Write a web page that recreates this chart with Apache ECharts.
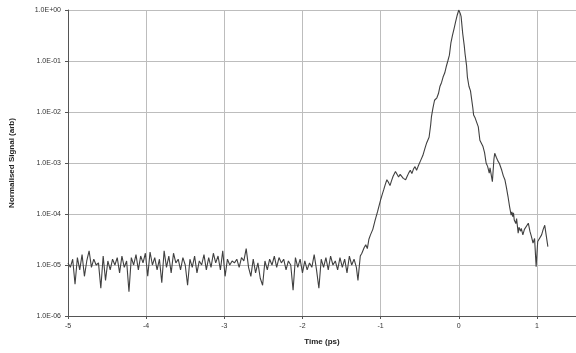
<!DOCTYPE html>
<html>
<head>
<meta charset="utf-8">
<script src="https://cdn.jsdelivr.net/npm/echarts@6/dist/echarts.min.js"></script>
<style>html,body{margin:0;padding:0;background:#fff;}#chart{width:576px;height:353px;}</style>
</head>
<body>
<div id="chart"></div>
<script>
// Time axis (ps)
var timePs = [
-5.00,-4.97,-4.94,-4.91,-4.88,-4.85,-4.82,-4.79,-4.76,-4.73,-4.70,-4.67,-4.64,-4.61,-4.58,-4.55,-4.52,-4.49,-4.46,-4.43,
-4.40,-4.37,-4.34,-4.31,-4.28,-4.25,-4.22,-4.19,-4.16,-4.13,-4.10,-4.07,-4.04,-4.01,-3.98,-3.95,-3.92,-3.89,-3.86,-3.83,
-3.80,-3.77,-3.74,-3.71,-3.68,-3.65,-3.62,-3.59,-3.56,-3.53,-3.50,-3.47,-3.44,-3.41,-3.38,-3.35,-3.32,-3.29,-3.26,-3.23,
-3.20,-3.17,-3.14,-3.11,-3.08,-3.05,-3.02,-2.99,-2.96,-2.93,-2.90,-2.87,-2.84,-2.81,-2.78,-2.75,-2.72,-2.69,-2.66,-2.63,
-2.60,-2.57,-2.54,-2.51,-2.48,-2.45,-2.42,-2.39,-2.36,-2.33,-2.30,-2.27,-2.24,-2.21,-2.18,-2.15,-2.12,-2.09,-2.06,-2.03,
-2.00,-1.97,-1.94,-1.91,-1.88,-1.85,-1.82,-1.79,-1.76,-1.73,-1.70,-1.67,-1.64,-1.61,-1.58,-1.55,-1.52,-1.49,-1.46,-1.43,
-1.40,-1.37,-1.34,-1.31,
-1.29,-1.26,-1.24,-1.21,-1.19,-1.17,-1.15,-1.13,-1.10,-1.07,-1.04,-1.00,-0.98,-0.96,-0.94,-0.92,-0.90,-0.88,-0.86,-0.84,
-0.81,-0.79,-0.77,-0.75,-0.73,-0.71,-0.68,-0.66,-0.64,-0.62,-0.60,-0.58,-0.56,-0.54,-0.52,-0.49,-0.46,-0.43,-0.41,-0.38,
-0.36,-0.35,-0.33,-0.31,-0.28,-0.26,-0.24,-0.22,-0.20,-0.18,-0.16,-0.14,-0.12,-0.10,-0.08,-0.06,-0.04,-0.02,0.00,
0.02,0.03,0.05,0.07,0.08,0.10,0.11,0.13,0.15,0.16,0.18,0.19,0.21,0.23,0.25,0.27,0.29,0.31,0.33,0.35,
0.37,0.39,0.40,0.42,0.43,0.45,0.46,0.48,0.50,0.52,0.55,0.57,0.59,0.61,0.63,0.65,0.67,0.68,0.69,0.70,
0.71,0.73,0.74,0.76,0.77,0.79,0.80,0.82,0.84,0.86,0.89,0.91,0.93,0.95,0.97,0.99,1.01,1.03,1.06,1.08,
1.10,1.12,1.14
];
// Normalised signal (arb)
var signal = [
1.1e-5,0.9e-5,1.3e-5,0.42e-5,1.4e-5,0.8e-5,1.6e-5,0.6e-5,1.2e-5,1.9e-5,0.9e-5,1.3e-5,1.0e-5,1.1e-5,0.35e-5,1.5e-5,0.5e-5,1.2e-5,0.8e-5,1.3e-5,
1.0e-5,1.4e-5,0.7e-5,1.5e-5,0.9e-5,1.2e-5,0.3e-5,1.4e-5,1.0e-5,1.6e-5,0.8e-5,1.5e-5,1.1e-5,1.7e-5,0.6e-5,1.8e-5,1.0e-5,1.4e-5,0.8e-5,1.3e-5,
0.45e-5,1.9e-5,0.9e-5,1.5e-5,0.7e-5,1.7e-5,1.1e-5,1.3e-5,0.8e-5,1.4e-5,1.0e-5,0.4e-5,1.3e-5,0.9e-5,1.5e-5,0.7e-5,1.2e-5,1.0e-5,1.6e-5,0.8e-5,
1.4e-5,0.9e-5,1.7e-5,1.1e-5,1.5e-5,0.8e-5,1.9e-5,0.6e-5,1.3e-5,1.0e-5,1.2e-5,1.1e-5,1.3e-5,0.9e-5,1.4e-5,1.2e-5,2.1e-5,0.9e-5,0.6e-5,1.3e-5,
0.7e-5,1.1e-5,0.55e-5,0.4e-5,1.2e-5,0.8e-5,1.3e-5,1.0e-5,1.5e-5,0.9e-5,1.4e-5,1.1e-5,1.3e-5,0.8e-5,1.2e-5,1.0e-5,0.32e-5,1.4e-5,0.9e-5,1.3e-5,
0.7e-5,1.2e-5,0.8e-5,1.1e-5,0.9e-5,1.6e-5,0.8e-5,0.35e-5,1.3e-5,0.9e-5,1.4e-5,0.8e-5,1.5e-5,1.0e-5,1.2e-5,0.8e-5,1.4e-5,0.9e-5,1.3e-5,0.7e-5,
1.5e-5,1.0e-5,1.3e-5,0.9e-5,
0.5e-5,1.5e-5,1.7e-5,2.2e-5,2.5e-5,2.1e-5,3.2e-5,3.9e-5,5.0e-5,7.6e-5,1.1e-4,1.9e-4,2.4e-4,3.0e-4,3.8e-4,4.7e-4,4.2e-4,3.6e-4,4.5e-4,5.5e-4,
6.8e-4,6.0e-4,5.3e-4,6.0e-4,5.8e-4,5.0e-4,4.7e-4,5.5e-4,6.4e-4,7.2e-4,6.2e-4,7.6e-4,8.5e-4,7.2e-4,8.6e-4,1.1e-3,1.4e-3,2.0e-3,2.5e-3,3.2e-3,
5.5e-3,8.0e-3,1.2e-2,1.7e-2,1.9e-2,2.3e-2,3.2e-2,3.8e-2,4.9e-2,5.8e-2,7.8e-2,1.0e-1,1.3e-1,2.3e-1,3.2e-1,4.3e-1,5.9e-1,7.9e-1,1.0,
8.5e-1,7.4e-1,3.5e-1,2.0e-1,1.4e-1,8.0e-2,4.9e-2,3.2e-2,2.6e-2,2.0e-2,1.2e-2,8.7e-3,7.6e-3,7.0e-3,5.1e-3,2.8e-3,2.6e-3,2.1e-3,1.6e-3,1.0e-3,
8.5e-4,6.3e-4,8.0e-4,7.9e-4,4.3e-4,1.2e-3,1.55e-3,1.3e-3,1.1e-3,9.8e-4,7.2e-4,5.6e-4,4.7e-4,3.3e-4,2.2e-4,1.4e-4,9.5e-5,1.1e-4,8.9e-5,1.05e-4,
7.6e-5,6.5e-5,8.1e-5,4.2e-5,5.5e-5,4.6e-5,5.2e-5,3.9e-5,5.0e-5,4.6e-5,6.6e-5,4.6e-5,3.6e-5,2.7e-5,3.3e-5,9.3e-6,2.9e-5,3.0e-5,3.9e-5,5.0e-5,
6.0e-5,5.5e-5,2.3e-5
];
var xTickLabels = ['-5','-4','-3','-2','-1','0','1'];
var yTickLabels = ['1.0E-06','1.0E-05','1.0E-04','1.0E-03','1.0E-02','1.0E-01','1.0E+00'];

var seriesData = timePs.map(function (t, i) { return [t, signal[i]]; });

var chart = echarts.init(document.getElementById('chart'), null, {renderer: 'canvas'});
chart.setOption({
  animation: false,
  backgroundColor: '#ffffff',
  grid: {left: 67, right: 0, top: 10, bottom: 37, containLabel: false},
  xAxis: {
    type: 'value', min: -5, max: 1.5, interval: 1,
    name: 'Time (ps)', nameLocation: 'middle', nameGap: 22,
    nameTextStyle: {fontFamily: 'Liberation Sans', fontSize: 8, fontWeight: 'bold', color: '#222'},
    axisLine: {show: true, onZero: false, lineStyle: {color: '#555', width: 1}},
    axisTick: {show: true, length: 3, lineStyle: {color: '#555'}},
    axisLabel: {
      fontFamily: 'Liberation Sans', fontSize: 7, color: '#333', margin: 7,
      showMaxLabel: false,
      formatter: function (v) {
        var idx = xTickLabels.indexOf(String(Math.round(v)));
        return (Math.abs(v - Math.round(v)) < 1e-9 && idx >= 0) ? xTickLabels[idx] : '';
      }
    },
    splitLine: {show: true, lineStyle: {color: '#bdbdbd', width: 1}}
  },
  yAxis: {
    type: 'log', logBase: 10, min: 1e-6, max: 1,
    name: 'Normalised Signal (arb)', nameLocation: 'middle', nameGap: 52,
    nameTextStyle: {fontFamily: 'Liberation Sans', fontSize: 8, fontWeight: 'bold', color: '#222'},
    axisLine: {show: true, onZero: false, lineStyle: {color: '#555', width: 1}},
    axisTick: {show: true, length: 3, lineStyle: {color: '#555'}},
    axisLabel: {
      fontFamily: 'Liberation Sans', fontSize: 7, color: '#333', margin: 7,
      formatter: function (v) {
        var e = Math.round(Math.log10(v));
        return yTickLabels[e + 6] || '';
      }
    },
    splitLine: {show: true, lineStyle: {color: '#bdbdbd', width: 1}}
  },
  series: [{
    type: 'line',
    data: seriesData,
    showSymbol: false,
    symbol: 'none',
    lineStyle: {color: '#404040', width: 1.1},
    clip: true
  }]
});
</script>
</body>
</html>
